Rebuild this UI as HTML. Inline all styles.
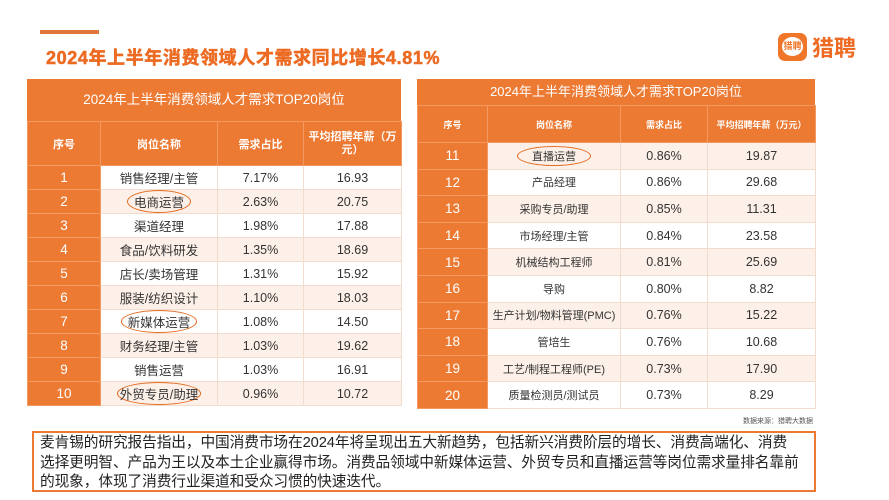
<!DOCTYPE html>
<html><head><meta charset="utf-8"><style>
*{margin:0;padding:0;box-sizing:border-box}
body{width:889px;height:500px;background:#fff;position:relative;overflow:hidden;font-family:"Liberation Sans","Noto Sans CJK SC",sans-serif}
.a{position:absolute}
table{border-collapse:collapse;position:absolute;table-layout:fixed}
td{text-align:center;color:#333;border:1px solid #f1dccd;padding:0;white-space:nowrap}
td.s{background:#ec7a33;color:#fff;border-color:#f39a63;font-size:13.5px}
tr.h td{background:#ec7a33;color:#fff;font-weight:bold;border-color:#f39a63}
tr.o td:not(.s){background:#fdf0e8}
tr.e td:not(.s){background:#fff}
.ov{display:inline-block;border:1.5px solid #e46a20;border-radius:50%;padding:1px 6px}
</style></head><body>
<div class="a" style="left:40px;top:30px;width:59px;height:4px;background:#e0773a"></div>
<div class="a" style="left:46px;top:44px;font-size:18px;font-weight:bold;color:#ec6a22;letter-spacing:0.6px;-webkit-text-stroke:0.5px #ec6a22">2024年上半年消费领域人才需求同比增长4.81%</div>
<div class="a" style="left:778px;top:33px;width:29px;height:28px;background:#f0762a;border-radius:7px"></div>
<div class="a" style="left:782px;top:37px;width:21px;height:19px;background:#fff;border-radius:50%;font-size:9px;color:#f0762a;font-weight:bold;text-align:center;line-height:19px">猎聘</div>
<div class="a" style="left:812px;top:31px;font-size:22px;color:#ec6a22;font-weight:bold">猎聘</div>

<div class="a" style="left:27px;top:79px;width:374px;height:42px;background:#ec7a33;color:#fff;font-size:13.5px;text-align:center;line-height:42px">2024年上半年消费领域人才需求TOP20岗位</div>
<table style="left:27px;top:121px;width:374px;font-size:12.5px">
<colgroup><col style="width:73px"><col style="width:117px"><col style="width:86px"><col style="width:98px"></colgroup>
<tr class="h" style="height:44px;font-size:11px"><td class="s" style="font-size:11px">序号</td><td>岗位名称</td><td>需求占比</td><td style="line-height:13px;white-space:normal">平均招聘年薪（万元）</td></tr>
<tr class="e" style="height:24px"><td class="s">1</td><td>销售经理/主管</td><td>7.17%</td><td>16.93</td></tr>
<tr class="o" style="height:24px"><td class="s">2</td><td><span class="ov">电商运营</span></td><td>2.63%</td><td>20.75</td></tr>
<tr class="e" style="height:24px"><td class="s">3</td><td>渠道经理</td><td>1.98%</td><td>17.88</td></tr>
<tr class="o" style="height:24px"><td class="s">4</td><td>食品/饮料研发</td><td>1.35%</td><td>18.69</td></tr>
<tr class="e" style="height:24px"><td class="s">5</td><td>店长/卖场管理</td><td>1.31%</td><td>15.92</td></tr>
<tr class="o" style="height:24px"><td class="s">6</td><td>服装/纺织设计</td><td>1.10%</td><td>18.03</td></tr>
<tr class="e" style="height:24px"><td class="s">7</td><td><span class="ov">新媒体运营</span></td><td>1.08%</td><td>14.50</td></tr>
<tr class="o" style="height:24px"><td class="s">8</td><td>财务经理/主管</td><td>1.03%</td><td>19.62</td></tr>
<tr class="e" style="height:24px"><td class="s">9</td><td>销售运营</td><td>1.03%</td><td>16.91</td></tr>
<tr class="o" style="height:24px"><td class="s">10</td><td><span class="ov" style="padding:1px 2px">外贸专员/助理</span></td><td>0.96%</td><td>10.72</td></tr>
</table>

<div class="a" style="left:417px;top:79px;width:398px;height:26px;background:#ec7a33;color:#fff;font-size:13px;text-align:center;line-height:26px">2024年上半年消费领域人才需求TOP20岗位</div>
<table style="left:417px;top:105px;width:398px;font-size:11px">
<colgroup><col style="width:70px"><col style="width:133px"><col style="width:87px"><col style="width:108px"></colgroup>
<tr class="h" style="height:37px;font-size:9px"><td class="s" style="font-size:9px">序号</td><td>岗位名称</td><td>需求占比</td><td>平均招聘年薪（万元）</td></tr>
<tr class="o" style="height:26.6px"><td class="s">11</td><td><span class="ov" style="padding:1px 14px">直播运营</span></td><td style="font-size:12.5px">0.86%</td><td style="font-size:12.5px">19.87</td></tr>
<tr class="e" style="height:26.6px"><td class="s">12</td><td>产品经理</td><td style="font-size:12.5px">0.86%</td><td style="font-size:12.5px">29.68</td></tr>
<tr class="o" style="height:26.6px"><td class="s">13</td><td>采购专员/助理</td><td style="font-size:12.5px">0.85%</td><td style="font-size:12.5px">11.31</td></tr>
<tr class="e" style="height:26.6px"><td class="s">14</td><td>市场经理/主管</td><td style="font-size:12.5px">0.84%</td><td style="font-size:12.5px">23.58</td></tr>
<tr class="o" style="height:26.6px"><td class="s">15</td><td>机械结构工程师</td><td style="font-size:12.5px">0.81%</td><td style="font-size:12.5px">25.69</td></tr>
<tr class="e" style="height:26.6px"><td class="s">16</td><td>导购</td><td style="font-size:12.5px">0.80%</td><td style="font-size:12.5px">8.82</td></tr>
<tr class="o" style="height:26.6px"><td class="s">17</td><td>生产计划/物料管理(PMC)</td><td style="font-size:12.5px">0.76%</td><td style="font-size:12.5px">15.22</td></tr>
<tr class="e" style="height:26.6px"><td class="s">18</td><td>管培生</td><td style="font-size:12.5px">0.76%</td><td style="font-size:12.5px">10.68</td></tr>
<tr class="o" style="height:26.6px"><td class="s">19</td><td>工艺/制程工程师(PE)</td><td style="font-size:12.5px">0.73%</td><td style="font-size:12.5px">17.90</td></tr>
<tr class="e" style="height:26.6px"><td class="s">20</td><td>质量检测员/测试员</td><td style="font-size:12.5px">0.73%</td><td style="font-size:12.5px">8.29</td></tr>
</table>
<div class="a" style="left:730px;top:416px;font-size:7px;color:#555;width:83px;text-align:right">数据来源：猎聘大数据</div>

<div class="a" style="left:32px;top:431px;width:784px;height:61px;border:2px solid #ec7a33;padding:1px 0 0 6px;font-size:14.7px;line-height:19.5px;color:#222;white-space:nowrap;overflow:hidden;letter-spacing:-0.1px">麦肯锡的研究报告指出，中国消费市场在2024年将呈现出五大新趋势，包括新兴消费阶层的增长、消费高端化、消费<br>选择更明智、产品为王以及本土企业赢得市场。消费品领域中新媒体运营、外贸专员和直播运营等岗位需求量排名靠前<br>的现象，体现了消费行业渠道和受众习惯的快速迭代。</div>
</body></html>
